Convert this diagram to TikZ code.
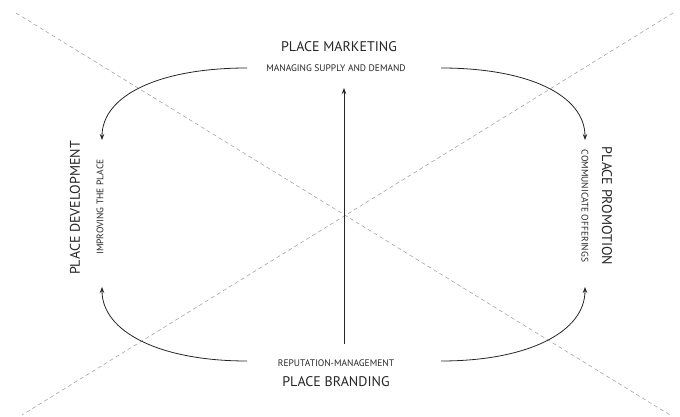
\documentclass[tikz,border=0pt]{standalone}
\usepackage{fontspec}
\setmainfont{PT Sans}
\usetikzlibrary{arrows.meta}
\begin{document}
\begin{tikzpicture}[x=1pt,y=-1pt,
  big/.style={inner sep=0pt,font=\fontsize{14}{14}\selectfont,text=black!85},
  small/.style={inner sep=0pt,font=\fontsize{9.5}{9.5}\selectfont,text=black!85},
  diag/.style={draw=black!35,line width=0.6pt,dash pattern=on 4pt off 3pt},
  flow/.style={draw=black!85,line width=0.8pt,-{Stealth[length=6pt,width=4.5pt]}}]
\useasboundingbox (0,0) rectangle (680,417);
% diagonals
\coordinate (tl) at (16,13);
\coordinate (br) at (670,415);
\coordinate (tr) at (673,13);
\coordinate (bl) at (22,415);
\draw[diag] (tl) -- (br);
\draw[diag] (tr) -- (bl);
% texts
\node[big] (mkt) at (339,47) {PLACE MARKETING};
\node[small] (mkts) at (336,68) {MANAGING SUPPLY AND DEMAND};
\node[small] (brs) at (336,363) {REPUTATION-MANAGEMENT};
\node[big] (brd) at (336,382) {PLACE BRANDING};
\node[big,rotate=90] (dev) at (75,208) {PLACE DEVELOPMENT};
\node[small,rotate=90] (devs) at (100,207) {IMPROVING THE PLACE};
\node[big,rotate=-90] (pro) at (607,206) {PLACE PROMOTION};
\node[small,rotate=-90] (pros) at (585,206) {COMMUNICATE OFFERINGS};
% connector endpoints
\coordinate (a1) at (247,68);
\coordinate (a2) at (102,140);
\coordinate (b1) at (247,361);
\coordinate (b2) at (102,287);
\coordinate (c1) at (441,68);
\coordinate (c2) at (585,140);
\coordinate (d1) at (441,361);
\coordinate (d2) at (585,287);
\coordinate (v1) at (344,344);
\coordinate (v2) at (344,88);
\draw[flow] (a1) .. controls (160,68) and (102,95) .. (a2);
\draw[flow] (b1) .. controls (160,361) and (102,332) .. (b2);
\draw[flow] (c1) .. controls (528,68) and (585,95) .. (c2);
\draw[flow] (d1) .. controls (528,361) and (585,332) .. (d2);
\draw[flow] (v1) -- (v2);
\end{tikzpicture}
\end{document}
